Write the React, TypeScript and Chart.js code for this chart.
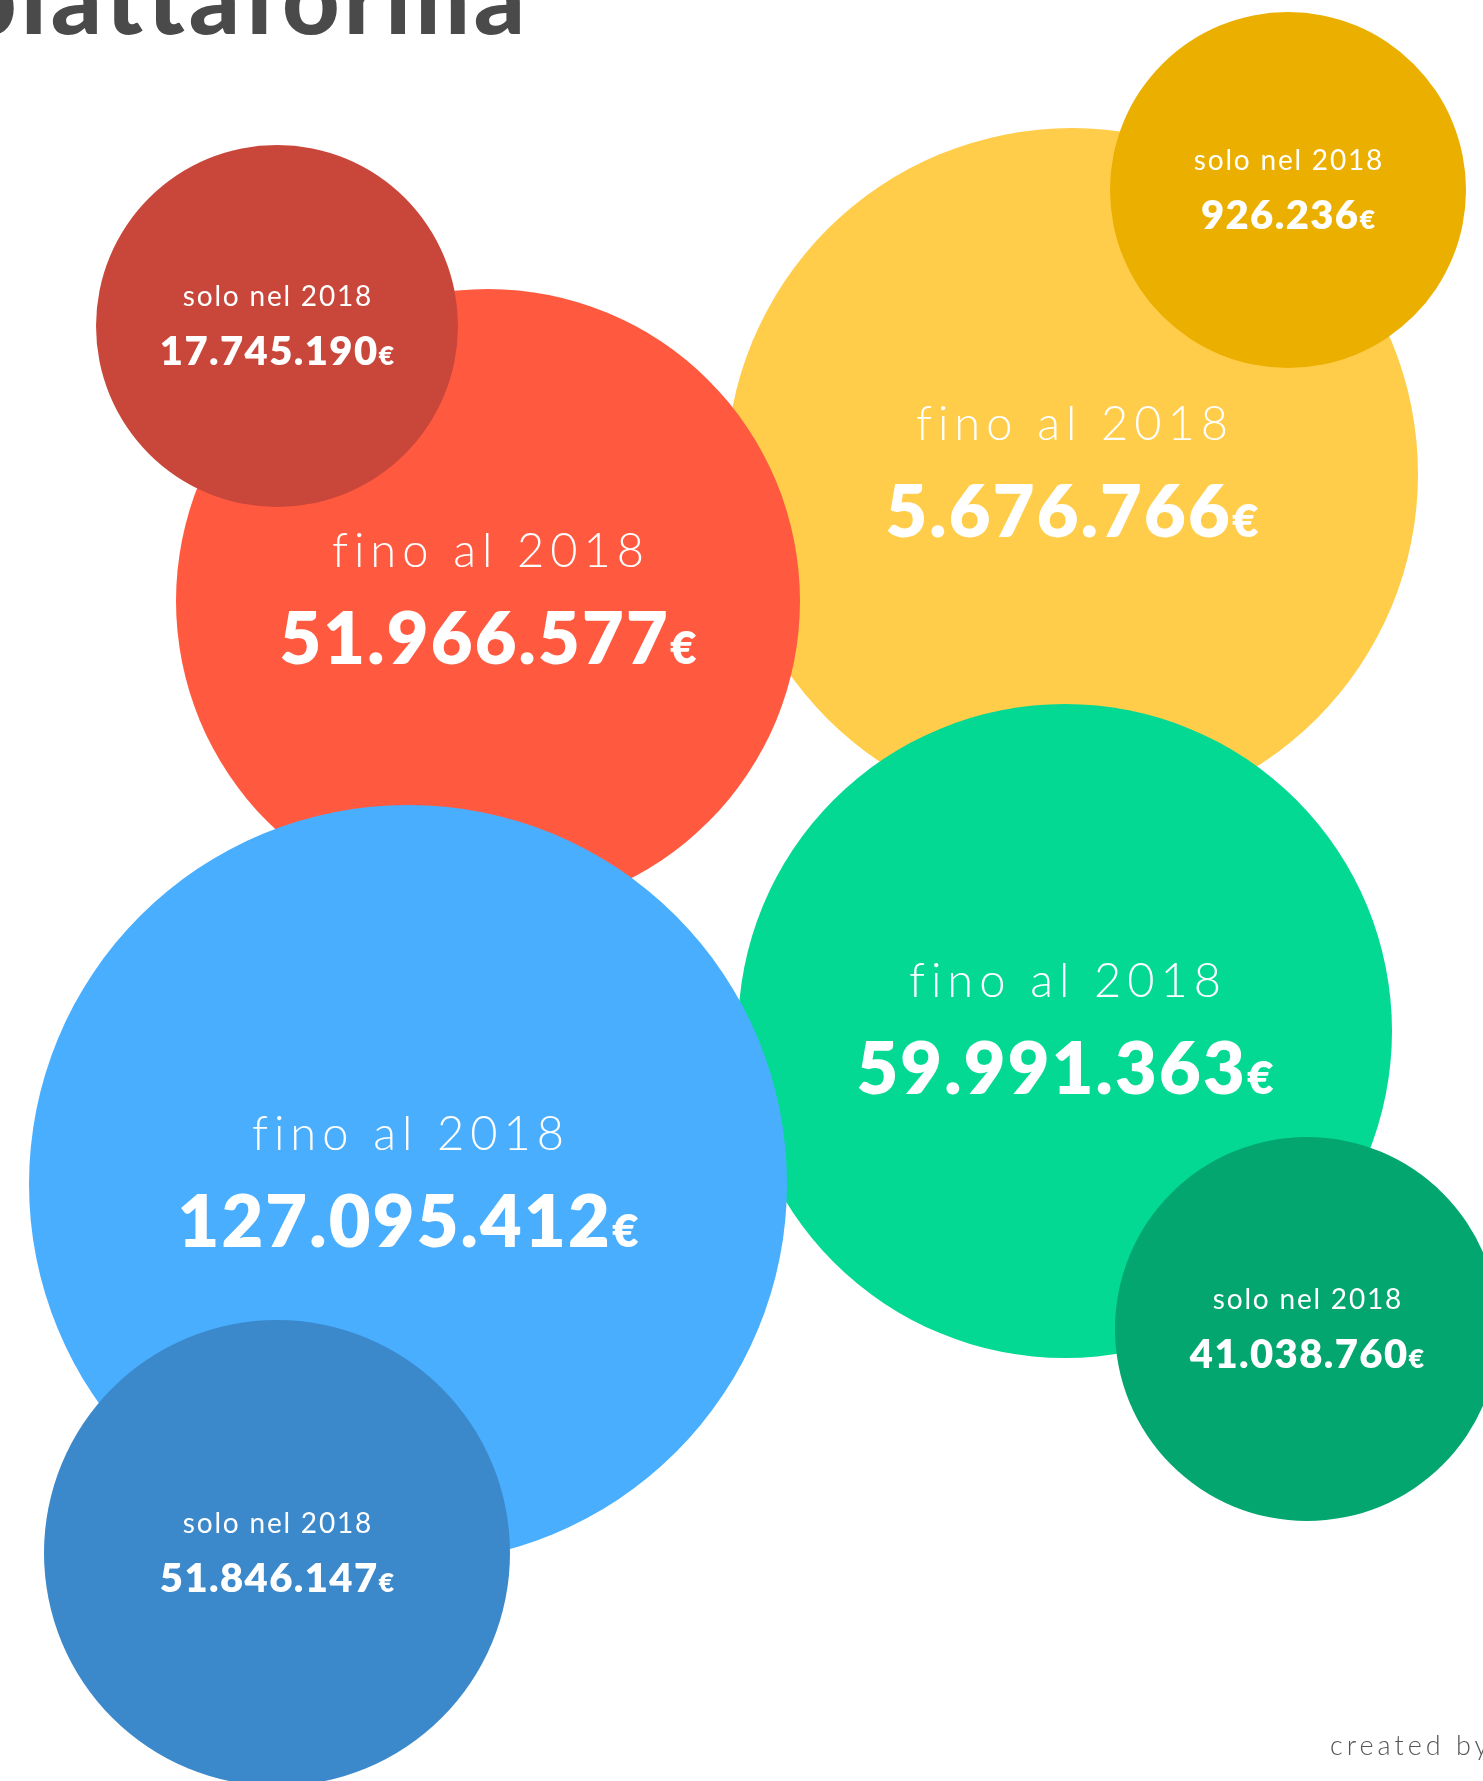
import React, { useEffect, useRef } from "react";
import { Chart, registerables } from "chart.js";

Chart.register(...registerables);

// ---- data ----
const titleText = "piattaforma";
const creditText = "created by";
const periodLabels = ["fino al 2018", "solo nel 2018"];
const currency = "€";

// draw order: big totals first, then yearly bubbles on top
const bubbleValues = [
  "5.676.766",
  "59.991.363",
  "51.966.577",
  "127.095.412",
  "17.745.190",
  "926.236",
  "41.038.760",
  "51.846.147",
];
const bubblePeriod = [0, 0, 0, 0, 1, 1, 1, 1];
const bubbleX = [1072, 1065, 488, 408, 277, 1288, 1307, 277];
const bubbleY = [474, 1031, 601, 1184, 326, 190, 1329, 1553];
const bubbleR = [346, 327, 312, 379, 181, 178, 192, 233];
const bubbleColors = [
  "#FFCD4A",
  "#03D993",
  "#FF5A40",
  "#4AAEFE",
  "#C9473A",
  "#EBAF00",
  "#02A66E",
  "#3B89CB",
];

const W = 1483;
const H = 1781;

const FONT = "Lato, 'Open Sans', sans-serif";

const styleBig = { labelSize: 47, labelSpacing: 6, labelDy: -34, valueSize: 72, curSize: 46, valueSpacing: 2.2, valueDy: 63 };
const styleSmall = { labelSize: 28, labelSpacing: 1.8, labelDy: -20, valueSize: 40, curSize: 27, valueSpacing: 1.4, valueDy: 39 };

function drawSpaced(ctx: CanvasRenderingContext2D, text: string, cx: number, y: number, font: string, spacing: number) {
  ctx.font = font;
  (ctx as any).letterSpacing = spacing + "px";
  const w = ctx.measureText(text).width - spacing;
  ctx.textAlign = "left";
  ctx.fillText(text, cx - w / 2, y);
  (ctx as any).letterSpacing = "0px";
}

function drawValue(ctx: CanvasRenderingContext2D, text: string, cx: number, y: number, st: any) {
  const fMain = `800 ${st.valueSize}px ${FONT}`;
  const fCur = `800 ${st.curSize}px ${FONT}`;
  (ctx as any).letterSpacing = st.valueSpacing + "px";
  ctx.font = fMain;
  const w1 = ctx.measureText(text).width;
  ctx.font = fCur;
  const w2 = ctx.measureText(currency).width - st.valueSpacing;
  const x0 = cx - (w1 + w2) / 2;
  ctx.textAlign = "left";
  ctx.font = fMain;
  ctx.fillText(text, x0, y);
  ctx.font = fCur;
  ctx.fillText(currency, x0 + w1, y);
  (ctx as any).letterSpacing = "0px";
}

const labelPlugin = {
  id: "bubbleLabels",
  afterDatasetsDraw(chart: any) {
    const ctx: CanvasRenderingContext2D = chart.ctx;
    const meta = chart.getDatasetMeta(0);
    ctx.save();
    ctx.fillStyle = "#FFFFFF";
    ctx.textBaseline = "alphabetic";
    meta.data.forEach((el: any, i: number) => {
      const { x, y } = el.getProps(["x", "y"], true);
      const st = bubblePeriod[i] === 0 ? styleBig : styleSmall;
      const labelWeight = bubblePeriod[i] === 0 ? 300 : 400;
      drawSpaced(ctx, periodLabels[bubblePeriod[i]], x, y + st.labelDy, `${labelWeight} ${st.labelSize}px ${FONT}`, st.labelSpacing);
      drawValue(ctx, bubbleValues[i], x, y + st.valueDy, st);
    });
    // title (partially cut off at top)
    ctx.fillStyle = "#4A4A4A";
    (ctx as any).letterSpacing = "4px";
    ctx.font = `900 100px ${FONT}`;
    ctx.textAlign = "left";
    const tw = ctx.measureText(titleText).width - 4;
    ctx.fillText(titleText, 525 - tw, 34);
    // credit
    ctx.fillStyle = "#555555";
    (ctx as any).letterSpacing = "4px";
    ctx.font = `300 27px ${FONT}`;
    ctx.fillText(creditText, 1330, 1755);
    (ctx as any).letterSpacing = "0px";
    ctx.restore();
  },
};

export default function App() {
  const canvasRef = useRef<HTMLCanvasElement | null>(null);

  useEffect(() => {
    if (!canvasRef.current) return;
    const chart = new Chart(canvasRef.current, {
      type: "bubble",
      data: {
        datasets: [
          {
            label: "raccolta",
            data: bubbleValues.map((_, i) => ({ x: bubbleX[i], y: bubbleY[i], r: bubbleR[i] })),
            backgroundColor: bubbleColors,
            hoverBackgroundColor: bubbleColors,
            borderWidth: 0,
            hoverBorderWidth: 0,
            hoverRadius: 0,
            clip: false as any,
          },
        ],
      },
      options: {
        responsive: false,
        maintainAspectRatio: false,
        animation: false,
        devicePixelRatio: 1,
        events: [],
        layout: { padding: 0, autoPadding: false },
        plugins: {
          legend: { display: false },
          tooltip: { enabled: false },
          title: { display: false },
        },
        scales: {
          x: { type: "linear", min: 0, max: W, display: false, offset: false },
          y: { type: "linear", min: 0, max: H, reverse: true, display: false, offset: false },
        },
      },
      plugins: [labelPlugin],
    });
    return () => chart.destroy();
  }, []);

  return (
    <div style={{ position: "absolute", left: 0, top: 0, width: W, height: H, overflow: "hidden", background: "#FFFFFF" }}>
      <canvas ref={canvasRef} width={W} height={H} style={{ display: "block" }} />
    </div>
  );
}
